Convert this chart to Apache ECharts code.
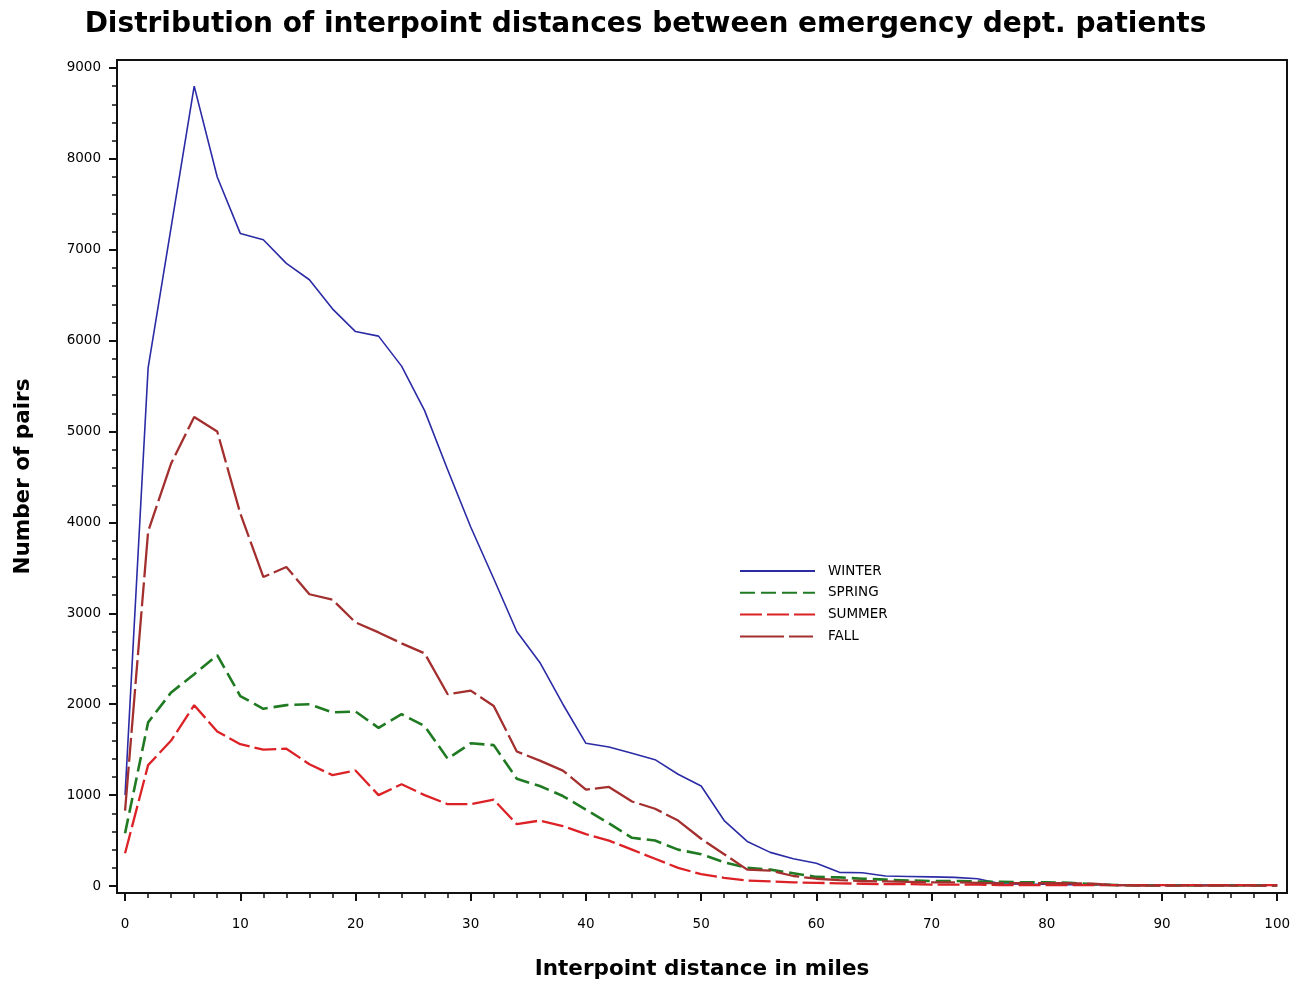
<!DOCTYPE html>
<html>
<head>
<meta charset="utf-8">
<script src="https://cdn.jsdelivr.net/npm/echarts@6/dist/echarts.min.js"></script>
<style>
  html, body { margin: 0; padding: 0; background: #fff; }
  #chart { width: 1291px; height: 981px; }
</style>
</head>
<body>
<div id="chart"></div>
<script>
// Interpoint distance (miles), one bin every 2 miles
const miles = [0,2,4,6,8,10,12,14,16,18,20,22,24,26,28,30,32,34,36,38,40,42,44,46,48,50,
  52,54,56,58,60,62,64,66,68,70,72,74,76,78,80,82,84,86,88,90,92,94,96,98,100];

// Number of patient pairs per season
const winter = [1000,5700,7250,8800,7800,7180,7110,6850,6670,6350,6100,6050,5720,5230,4580,3950,3380,2800,2460,2000,
  1570,1530,1460,1390,1230,1100,720,490,370,300,250,150,145,110,105,100,95,80,25,20,20,15,15,10,10,10,10,10,10,10,10];
const spring = [580,1800,2130,2330,2540,2090,1950,1990,2000,1910,1920,1740,1890,1760,1400,1570,1550,1180,1100,990,
  840,690,530,500,400,350,260,200,180,140,100,95,80,70,60,55,55,50,45,40,40,35,20,10,5,5,5,5,5,5,5];
const summer = [360,1330,1600,1990,1700,1560,1500,1510,1340,1220,1270,1000,1120,1000,900,900,950,680,720,660,
  570,500,400,300,200,130,90,60,50,40,35,30,25,20,20,15,15,15,10,10,10,10,10,10,10,10,10,10,10,10,10];
const fall = [830,3900,4650,5160,5000,4100,3400,3510,3210,3150,2900,2790,2670,2560,2110,2150,1980,1480,1380,1270,
  1060,1090,930,850,720,520,350,180,170,110,80,65,55,50,45,40,40,35,30,30,30,30,25,10,5,5,5,5,5,5,5];

const seasonNames = ['WINTER', 'SPRING', 'SUMMER', 'FALL'];

// Tick positions
const xMajor = [0,10,20,30,40,50,60,70,80,90,100];
const xMinor = miles;
const yMajor = [0,1000,2000,3000,4000,5000,6000,7000,8000,9000];
const yMinor = [];
for (let v = 0; v <= 9000; v += 200) yMinor.push(v);

const pairs = (ys) => miles.map((m, i) => [m, ys[i]]);

const FONT = '"DejaVu Sans", "Liberation Sans", Arial, sans-serif';
const X_MIN = -0.7, X_MAX = 100.85, Y_MIN = -77, Y_MAX = 9088;

const chart = echarts.init(document.getElementById('chart'), null, { renderer: 'canvas' });

const lineSeries = (name, data, color, width, dash) => ({
  name, type: 'line', data: pairs(data),
  xAxisIndex: 0, yAxisIndex: 0,
  symbol: 'none', showSymbol: false, animation: false,
  lineStyle: { color, width, type: dash },
  itemStyle: { color }
});

chart.setOption({
  backgroundColor: '#ffffff',
  animation: false,
  title: {
    text: 'Distribution of interpoint distances between emergency dept. patients',
    left: 'center', top: 6,
    textStyle: { fontFamily: FONT, fontWeight: 'bold', fontSize: 28, color: '#000' }
  },
  legend: {
    data: seasonNames,
    orient: 'vertical',
    left: 734, top: 559,
    itemWidth: 75, itemHeight: 12, itemGap: 7.8,
    itemStyle: { opacity: 0 },
    textStyle: { fontFamily: FONT, fontSize: 13.5, color: '#000', padding: [0, 0, 0, 8] }
  },
  grid: {
    left: 117, top: 60, right: 4, bottom: 88,
    containLabel: false, outerBoundsMode: 'none',
    show: true, borderColor: '#111', borderWidth: 2, backgroundColor: '#fff'
  },
  xAxis: [
    {
      type: 'value', min: X_MIN, max: X_MAX,
      name: 'Interpoint distance in miles', nameLocation: 'middle', nameGap: 65,
      nameTextStyle: { fontFamily: FONT, fontWeight: 'bold', fontSize: 21.5, color: '#000' },
      axisLine: { show: true, onZero: false, lineStyle: { color: '#111', width: 2 } },
      axisTick: { show: true, inside: false, length: 8, customValues: xMajor, lineStyle: { color: '#111', width: 2 } },
      axisLabel: { show: true, customValues: xMajor, margin: 24, fontFamily: FONT, fontSize: 13.5, color: '#000' },
      splitLine: { show: false }
    },
    {
      type: 'value', min: X_MIN, max: X_MAX, position: 'bottom',
      axisLine: { show: false, onZero: false },
      axisTick: { show: true, inside: false, length: 5, customValues: xMinor, lineStyle: { color: '#111', width: 1.5 } },
      axisLabel: { show: false },
      splitLine: { show: false }
    }
  ],
  yAxis: [
    {
      type: 'value', min: Y_MIN, max: Y_MAX,
      name: 'Number of pairs', nameLocation: 'middle', nameGap: 83, nameRotate: 90,
      nameTextStyle: { fontFamily: FONT, fontWeight: 'bold', fontSize: 21.5, color: '#000' },
      axisLine: { show: true, onZero: false, lineStyle: { color: '#111', width: 2 } },
      axisTick: { show: true, inside: false, length: 8, customValues: yMajor, lineStyle: { color: '#111', width: 2 } },
      axisLabel: { show: true, customValues: yMajor, margin: 16, fontFamily: FONT, fontSize: 13.5, color: '#000',
        formatter: (v) => String(v) },
      splitLine: { show: false }
    },
    {
      type: 'value', min: Y_MIN, max: Y_MAX, position: 'left',
      axisLine: { show: false, onZero: false },
      axisTick: { show: true, inside: false, length: 5, customValues: yMinor, lineStyle: { color: '#111', width: 1.5 } },
      axisLabel: { show: false },
      splitLine: { show: false }
    }
  ],
  series: [
    lineSeries('WINTER', winter, '#2b2ba6', 1.6, 'solid'),
    lineSeries('SPRING', spring, '#1f7a22', 2.6, [15, 6]),
    lineSeries('SUMMER', summer, '#dc2226', 2.3, [22, 5]),
    lineSeries('FALL', fall, '#a3302f', 2.3, [44, 5, 24, 5])
  ]
});
</script>
</body>
</html>
